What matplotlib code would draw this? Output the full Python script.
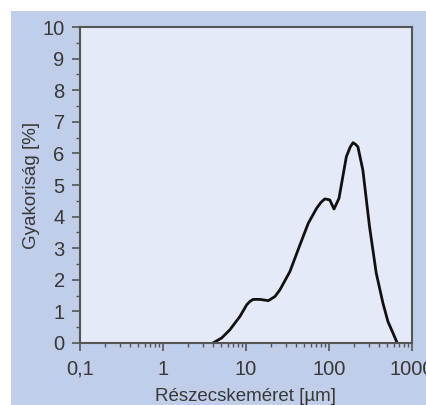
import matplotlib
matplotlib.use("Agg")
import matplotlib.pyplot as plt
from matplotlib.patches import Rectangle
from matplotlib.ticker import FixedLocator, LogLocator, NullFormatter, MultipleLocator

plt.rcParams['font.family'] = ['Liberation Sans', 'DejaVu Sans']

# particle size distribution (size in µm, frequency in %)
size_um = [4.0, 5.1, 6.4, 8.45, 10.2, 11.2, 12.2, 14.7, 18.6, 22.3, 25.6, 33.8, 44.6,
           56.3, 70.8, 80, 89, 102, 115, 132, 162, 180, 195, 210, 223, 256, 308, 371, 447,
           513, 589, 664]
freq_pct = [0.0, 0.16, 0.42, 0.84, 1.21, 1.32, 1.38, 1.38, 1.34, 1.47, 1.68, 2.26, 3.1,
            3.79, 4.26, 4.45, 4.56, 4.53, 4.24, 4.58, 5.9, 6.2, 6.34, 6.28, 6.21, 5.47, 3.68, 2.21,
            1.26, 0.68, 0.32, 0.0]
x_ticks = [0.1, 1, 10, 100, 1000]
x_labels = ['0,1', '1', '10', '100', '1000']

outer = '#C0CEE9'
inner = '#E4EAF7'
grey = '#555555'
text_col = '#383838'

fig = plt.figure(figsize=(4.26, 4.05), dpi=100, facecolor='white')
fig.patches.append(Rectangle((11 / 426, 0), 1, 1 - 11 / 405, transform=fig.transFigure,
                             facecolor=outer, edgecolor='none', zorder=-10))

ax = fig.add_axes([0.1878, 0.1531, 0.7793, 0.7802])
ax.set_zorder(5)
ax.set_facecolor(inner)
ax.plot(size_um, freq_pct, color='#111111', lw=2, solid_joinstyle='round')

ax.set_xscale('log')
ax.set_xlim(0.1, 1000)
ax.set_ylim(0, 10)
ax.xaxis.set_major_locator(FixedLocator(x_ticks))
ax.set_xticklabels(x_labels)
ax.xaxis.set_minor_locator(LogLocator(base=10, subs=range(2, 10)))
ax.xaxis.set_minor_formatter(NullFormatter())
ax.yaxis.set_major_locator(MultipleLocator(1))
ax.yaxis.set_minor_locator(MultipleLocator(0.5))

for s in ax.spines.values():
    s.set_color(grey)
    s.set_linewidth(1.5)
ax.tick_params(which='major', direction='out', length=6, width=1.2, color=grey,
               labelsize=14.5, labelcolor=text_col)
ax.tick_params(axis='y', which='major', pad=5)
ax.tick_params(axis='x', which='major', pad=6)
ax.tick_params(which='minor', direction='out', length=3, width=1, color=grey)

ax.set_xlabel('Részecskeméret [µm]', fontsize=13.5, color=text_col, labelpad=7)
ax.set_ylabel('Gyakoriság [%]', fontsize=13.5, color=text_col, labelpad=2)

fig.savefig('out.png', dpi=100, facecolor=fig.get_facecolor())
